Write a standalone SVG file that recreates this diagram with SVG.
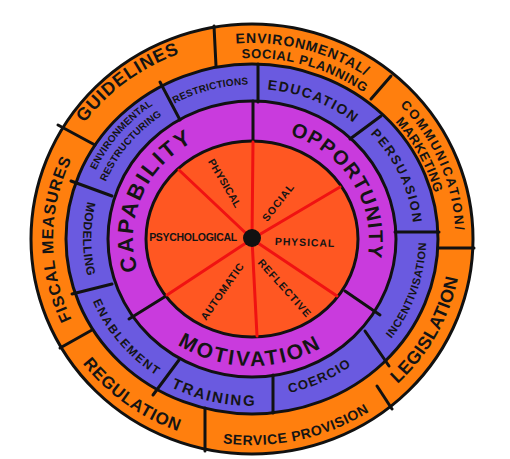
<svg xmlns="http://www.w3.org/2000/svg" width="510" height="459" viewBox="0 0 510 459">
<style>
.ring{stroke:#111;stroke-width:3}
.div{stroke:#111;stroke-width:3;stroke-linecap:round;fill:none}
.spoke{stroke:#f01212;stroke-width:3;stroke-linecap:round}
text{font-family:"Liberation Sans",Arial,sans-serif;fill:#141414;font-weight:bold}
.inn{font-size:10.5px}
</style>
<defs>
<path id="pGuide" d="M45.4,249 A207,198 0 0 1 312.5,49.7"/>
<path id="pEnv1" d="M120.2,88.9 A205,196 0 0 1 444.6,172"/>
<path id="pEnv2" d="M135,96.4 A190,181 0 0 1 432.7,183.1"/>
<path id="pComm" d="M296,49 A203,194 0 0 1 422,345"/>
<path id="pMark" d="M278.2,61.7 A187,178 0 0 1 418,323"/>
<path id="pLegis" d="M277.6,438.5 A210,201 0 0 0 439.1,147.7"/>
<path id="pServ" d="M94.7,379.5 A215,206 0 0 0 457.6,299.2"/>
<path id="pRegu" d="M39.1,231.8 A213,205 0 0 0 317.8,434"/>
<path id="pFisc" d="M152.5,403.5 A199,190 0 0 1 152.5,74.5"/>
<path id="pER1" d="M86.7,284.2 A172,164 0 0 1 264,75.4"/>
<path id="pER2" d="M100.9,282.9 A158,150 0 0 1 260.3,89.2"/>
<path id="pRestr" d="M105.7,174.5 A162,155 0 0 1 343.8,111.3"/>
<path id="pEdu" d="M168.2,111 A160,150 0 0 1 408.7,208.8"/>
<path id="pPers" d="M283.7,88 A162,154 0 0 1 390.4,319"/>
<path id="pInc" d="M301.4,398.2 A174,166 0 0 0 391.9,140.3"/>
<path id="pCoer" d="M170.8,376.8 A166,158 0 0 0 415.8,264.5"/>
<path id="pTrain" d="M88.4,300.5 A176,167 0 0 0 368.8,363.9"/>
<path id="pEnab" d="M86.9,193 A172,164 0 0 0 263.1,402.7"/>
<path id="pMod" d="M155.1,107.1 A169,161 0 0 0 155.1,370.9"/>
<path id="pCap" d="M152.2,300 A119,112 0 0 1 225.2,129.9"/>
<path id="pOpp" d="M252,129 A117,110 0 0 1 353.3,294"/>
<path id="pMot" d="M134.8,300.6 A134,127 0 0 0 366.9,304.4"/>
</defs>
<rect width="510" height="459" fill="#ffffff"/>
<g id="rings">
<ellipse class="ring" cx="252" cy="239" rx="221" ry="215" fill="#ff7f0e" stroke-width="4"/>
<ellipse class="ring" cx="252" cy="239" rx="186" ry="175" fill="#6a5ae0"/>
<ellipse class="ring" cx="252" cy="239" rx="144" ry="138" fill="#c93bdd"/>
<ellipse class="ring" cx="252" cy="239" rx="106" ry="98" fill="#ff5722"/>
</g>
<g id="connectors">
<line class="div" x1="214" y1="26" x2="216" y2="66"/>
<line class="div" x1="371" y1="99" x2="391" y2="76"/>
<line class="div" x1="438" y1="248" x2="474" y2="248"/>
<line class="div" x1="377" y1="386" x2="392" y2="409"/>
<line class="div" x1="205" y1="408" x2="205" y2="451"/>
<line class="div" x1="60" y1="348" x2="92" y2="330"/>
<line class="div" x1="58" y1="125" x2="95" y2="145"/>
<line class="div" x1="160" y1="82" x2="180" y2="120"/>
<line class="div" x1="258" y1="64" x2="258" y2="102"/>
<line class="div" x1="350" y1="139" x2="381" y2="116"/>
<line class="div" x1="395" y1="232" x2="439" y2="232"/>
<line class="div" x1="365" y1="331" x2="389" y2="366"/>
<line class="div" x1="273" y1="375" x2="273" y2="413"/>
<line class="div" x1="179" y1="360" x2="153" y2="395"/>
<line class="div" x1="72" y1="294" x2="112" y2="284"/>
<line class="div" x1="71" y1="181" x2="112" y2="196"/>
<line class="div" x1="253" y1="101" x2="253" y2="141"/>
<line class="div" x1="345" y1="291" x2="380" y2="315"/>
<line class="div" x1="129" y1="319" x2="166" y2="296"/>
<line class="spoke" x1="252" y1="239" x2="253" y2="142"/>
<line class="spoke" x1="252" y1="239" x2="179" y2="170"/>
<line class="spoke" x1="252" y1="239" x2="340" y2="187"/>
<line class="spoke" x1="252" y1="239" x2="337" y2="296"/>
<line class="spoke" x1="252" y1="239" x2="257" y2="336"/>
<line class="spoke" x1="252" y1="239" x2="167" y2="295"/>
<circle cx="252" cy="238" r="9" fill="#111"/>
</g>
<g id="policies">
<text font-size="18" letter-spacing="1"><textPath href="#pGuide" startOffset="50%" text-anchor="middle">GUIDELINES</textPath></text>
<text font-size="14" letter-spacing="0.8"><textPath href="#pEnv1" startOffset="50%" text-anchor="middle">ENVIRONMENTAL/</textPath></text>
<text font-size="13" letter-spacing="0.6"><textPath href="#pEnv2" startOffset="50%" text-anchor="middle">SOCIAL PLANNING</textPath></text>
<text font-size="13" letter-spacing="1.8"><textPath href="#pComm" startOffset="50%" text-anchor="middle">COMMUNICATION/</textPath></text>
<text font-size="13" letter-spacing="0.4"><textPath href="#pMark" startOffset="50%" text-anchor="middle">MARKETING</textPath></text>
<text font-size="18" letter-spacing="0.4"><textPath href="#pLegis" startOffset="50%" text-anchor="middle">LEGISLATION</textPath></text>
<text font-size="14" letter-spacing="0.6"><textPath href="#pServ" startOffset="50%" text-anchor="middle">SERVICE PROVISION</textPath></text>
<text font-size="17" letter-spacing="0.8"><textPath href="#pRegu" startOffset="50%" text-anchor="middle">REGULATION</textPath></text>
<text font-size="16" letter-spacing="0.9"><textPath href="#pFisc" startOffset="50%" text-anchor="middle">FISCAL MEASURES</textPath></text>
</g>
<g id="interventions">
<text font-size="10" letter-spacing="0.1"><textPath href="#pER1" startOffset="50%" text-anchor="middle">ENVIRONMENTAL</textPath></text>
<text font-size="10" letter-spacing="0.1"><textPath href="#pER2" startOffset="50%" text-anchor="middle">RESTRUCTURING</textPath></text>
<text font-size="10" letter-spacing="0.2"><textPath href="#pRestr" startOffset="50%" text-anchor="middle">RESTRICTIONS</textPath></text>
<text font-size="14" letter-spacing="1.4"><textPath href="#pEdu" startOffset="50%" text-anchor="middle">EDUCATION</textPath></text>
<text font-size="13" letter-spacing="1.6"><textPath href="#pPers" startOffset="50%" text-anchor="middle">PERSUASION</textPath></text>
<text font-size="11" letter-spacing="0.6"><textPath href="#pInc" startOffset="50%" text-anchor="middle">INCENTIVISATION</textPath></text>
<text font-size="13" letter-spacing="1.2"><textPath href="#pCoer" startOffset="50%" text-anchor="middle">COERCIO</textPath></text>
<text font-size="15" letter-spacing="2"><textPath href="#pTrain" startOffset="50%" text-anchor="middle">TRAINING</textPath></text>
<text font-size="12" letter-spacing="1.7"><textPath href="#pEnab" startOffset="50%" text-anchor="middle">ENABLEMENT</textPath></text>
<text font-size="12" letter-spacing="0.4"><textPath href="#pMod" startOffset="50%" text-anchor="middle">MODELLING</textPath></text>
</g>
<g id="com-b">
<text font-size="22" letter-spacing="2.3"><textPath href="#pCap" startOffset="50%" text-anchor="middle">CAPABILITY</textPath></text>
<text font-size="20" letter-spacing="1.3"><textPath href="#pOpp" startOffset="50%" text-anchor="middle">OPPORTUNITY</textPath></text>
<text font-size="21" letter-spacing="2.4"><textPath href="#pMot" startOffset="50%" text-anchor="middle">MOTIVATION</textPath></text>
</g>
<g id="sources">
<text class="inn" letter-spacing="0.2" text-anchor="middle" transform="translate(225,183) rotate(59.5)" y="4">PHYSICAL</text>
<text class="inn" letter-spacing="0.9" text-anchor="middle" transform="translate(278,202) rotate(-52)" y="4">SOCIAL</text>
<text class="inn" letter-spacing="0.9" text-anchor="middle" transform="translate(305,242) rotate(2)" y="4">PHYSICAL</text>
<text class="inn" letter-spacing="0.9" text-anchor="middle" transform="translate(285,288) rotate(48)" y="4">REFLECTIVE</text>
<text class="inn" letter-spacing="0.6" text-anchor="middle" transform="translate(222,291) rotate(-55)" y="4">AUTOMATIC</text>
<text class="inn" letter-spacing="-0.3" text-anchor="middle" transform="translate(193,237)" y="4">PSYCHOLOGICAL</text>
</g>
</svg>
